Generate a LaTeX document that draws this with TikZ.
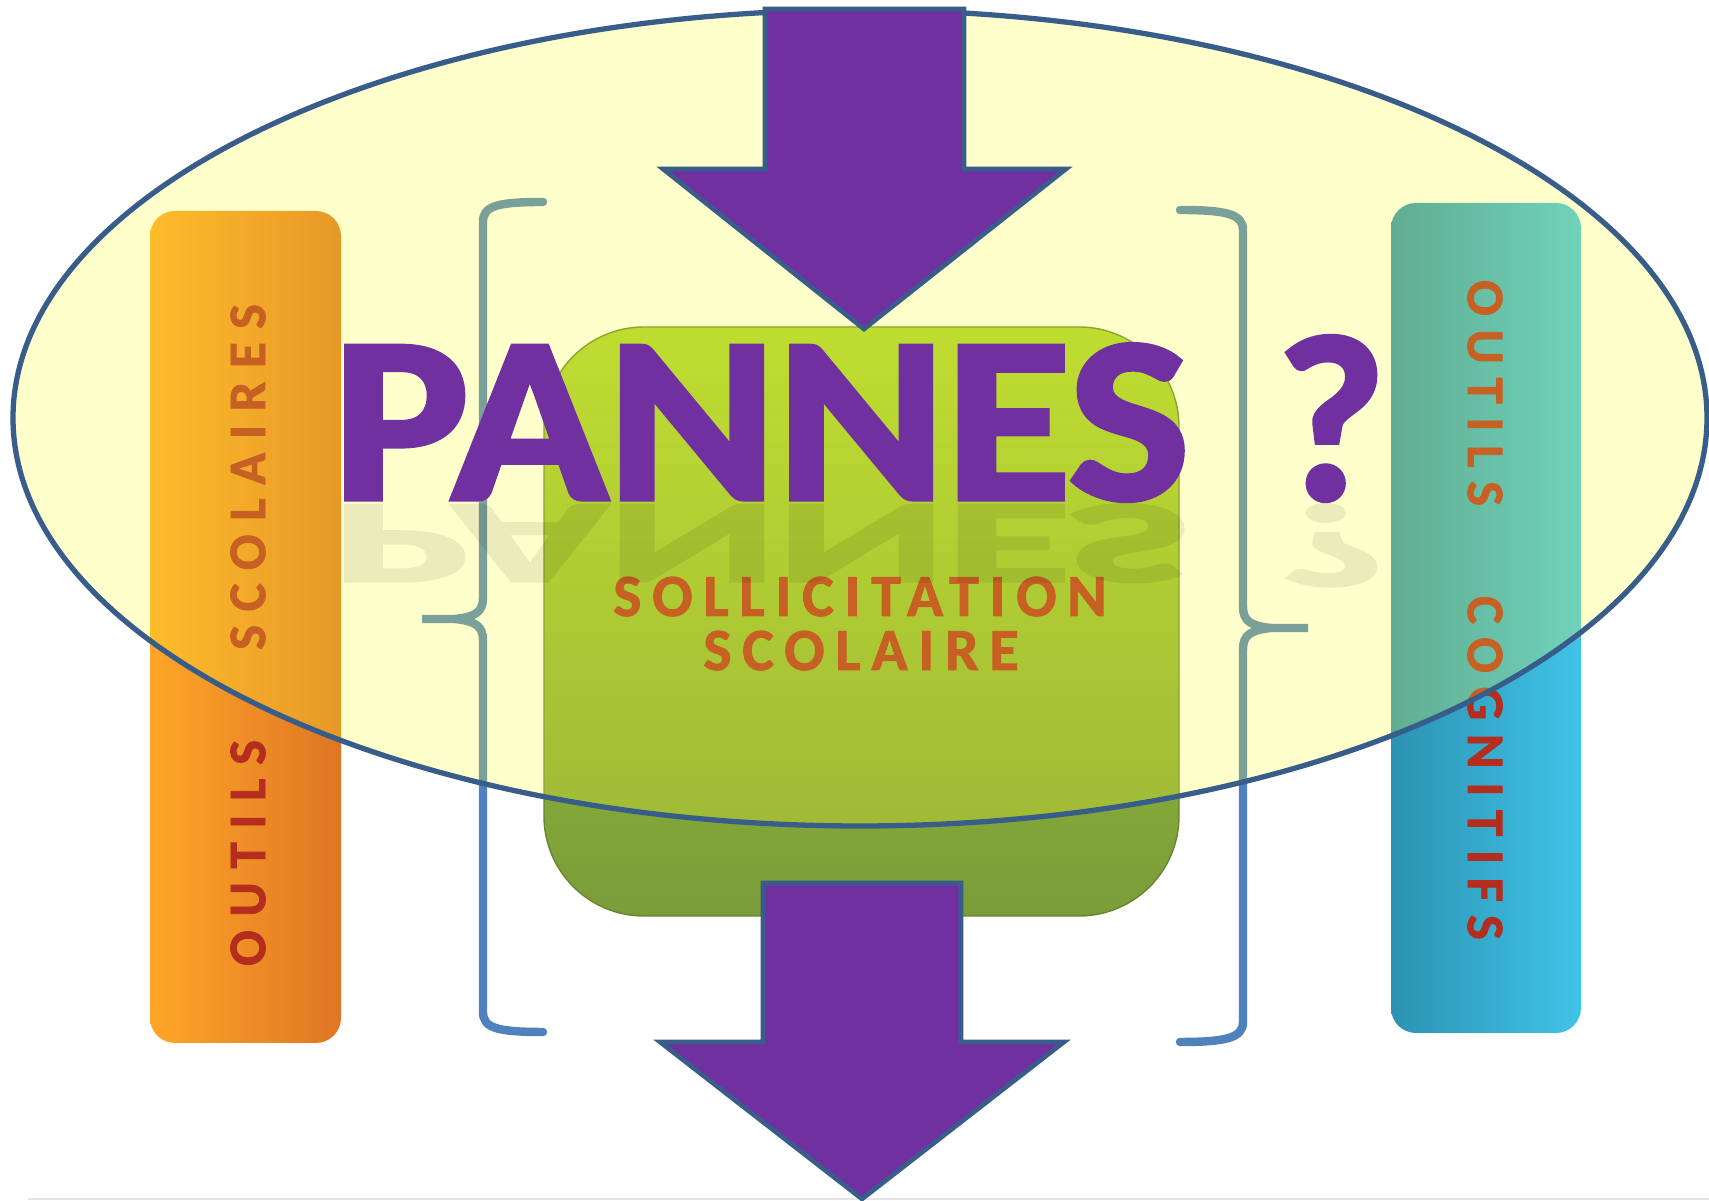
\documentclass[tikz,border=0pt]{standalone}
\usepackage{fontspec}
\setmainfont{Carlito}
\newfontfamily\spaced[LetterSpace=18, BoldFeatures={FakeBold=1.5}]{Carlito}
\newfontfamily\barfont[LetterSpace=26, BoldFeatures={FakeBold=1.5}]{Carlito}
\newfontfamily\heavy[BoldFeatures={FakeBold=2.2}]{Carlito}
\usepackage{tikz}
\definecolor{P}{RGB}{112, 48, 160}
\definecolor{L}{RGB}{56, 93, 138}
\definecolor{Y}{RGB}{255, 255, 51}
\definecolor{O1}{RGB}{255, 166, 40}
\definecolor{O2}{RGB}{222, 118, 36}
\definecolor{T1}{RGB}{44, 146, 178}
\definecolor{T2}{RGB}{64, 196, 232}
\definecolor{G1}{RGB}{170, 210, 48}
\definecolor{G2}{RGB}{122, 156, 58}
\definecolor{B}{RGB}{79, 129, 189}
\definecolor{R}{RGB}{180, 45, 30}

\begin{document}
\begin{tikzpicture}[x=0.1mm, y=-0.1mm,
  bigarrow/.style={fill=P, draw=L, line width=1.3pt, line join=miter},
  brace/.style={draw=B, line width=2.4pt, line cap=round},
  bartext/.style={text=R, font=\barfont\bfseries\fontsize{15}{15}\selectfont},
  boxtext/.style={text=R, anchor=base, font=\spaced\bfseries\fontsize{17}{17}\selectfont},
  title/.style={text=P, anchor=base, font=\heavy\bfseries\fontsize{67}{67}\selectfont}]
  \fill[white] (0,0) rectangle (1709,1201);
  \useasboundingbox (0,0) rectangle (1709,1201);
  \draw[gray!20, line width=0.8pt] (28,1199) -- (1709,1199);
  % side bars
  \shade[left color=O1, right color=O2, rounded corners=2.5mm] (150,211) rectangle (341,1043);
  \shade[left color=T1, right color=T2, rounded corners=2.5mm] (1391,203) rectangle (1581,1033);
  \node[bartext, rotate=90] (scolaires) at (248,635) {OUTILS\hspace{9mm}SCOLAIRES};
  \node[bartext, rotate=-90] (cognitifs) at (1485,610) {OUTILS\hspace{9mm}COGNITIFS};
  % braces
  \draw[brace] (543,202) .. controls (497,202) and (483,206) .. (483,222) -- (483,598)
    .. controls (483,612) and (475,617) .. (455,619) -- (422,619) -- (455,619)
    .. controls (475,621) and (483,626) .. (483,640) -- (483,1012)
    .. controls (483,1028) and (497,1032) .. (543,1032);
  \draw[brace] (1180,210) .. controls (1226,210) and (1243,214) .. (1243,230) -- (1243,607)
    .. controls (1243,621) and (1251,626) .. (1271,628) -- (1308,628) -- (1271,628)
    .. controls (1251,630) and (1243,635) .. (1243,649) -- (1243,1022)
    .. controls (1243,1038) and (1226,1042) .. (1180,1042);
  % central box
  \shadedraw[top color=G1, bottom color=G2, draw=G2!85!black, line width=0.4pt, rounded corners=10mm] (544,327) rectangle (1179,916);
  \node[boxtext] (sollicitation) at (860,616) {SOLLICITATION};
  \node[boxtext] (scolaire) at (861,670) {SCOLAIRE};
  % ellipse
  \fill[Y, fill opacity=0.25] (860,418) ellipse [x radius=847, y radius=408];
  \draw[L, line width=1.5pt] (860,418) ellipse [x radius=847, y radius=408];
  % arrows
  \filldraw[bigarrow] (765,9) -- (964,9) -- (964,169) -- (1066,169) -- (864,329) -- (663,169) -- (765,169) -- cycle;
  \filldraw[bigarrow] (763,883) -- (961,883) -- (961,1042) -- (1064,1042) -- (862,1199) -- (660,1042) -- (763,1042) -- cycle;
  % title
  \begin{scope}[transparency group, opacity=0.08]
    \node[title, text=black] (pannesrefl) at (761,505) {\scalebox{1.09}[-0.5]{PANNES}};
    \node[title, text=black] (questrefl) at (1331,505) {\scalebox{1}[-0.5]{?}};
  \end{scope}
  \node[title] (pannes) at (761,499) {\scalebox{1.09}[1]{PANNES}};
  \node[title] (quest) at (1331,499) {?};
\end{tikzpicture}
\end{document}
